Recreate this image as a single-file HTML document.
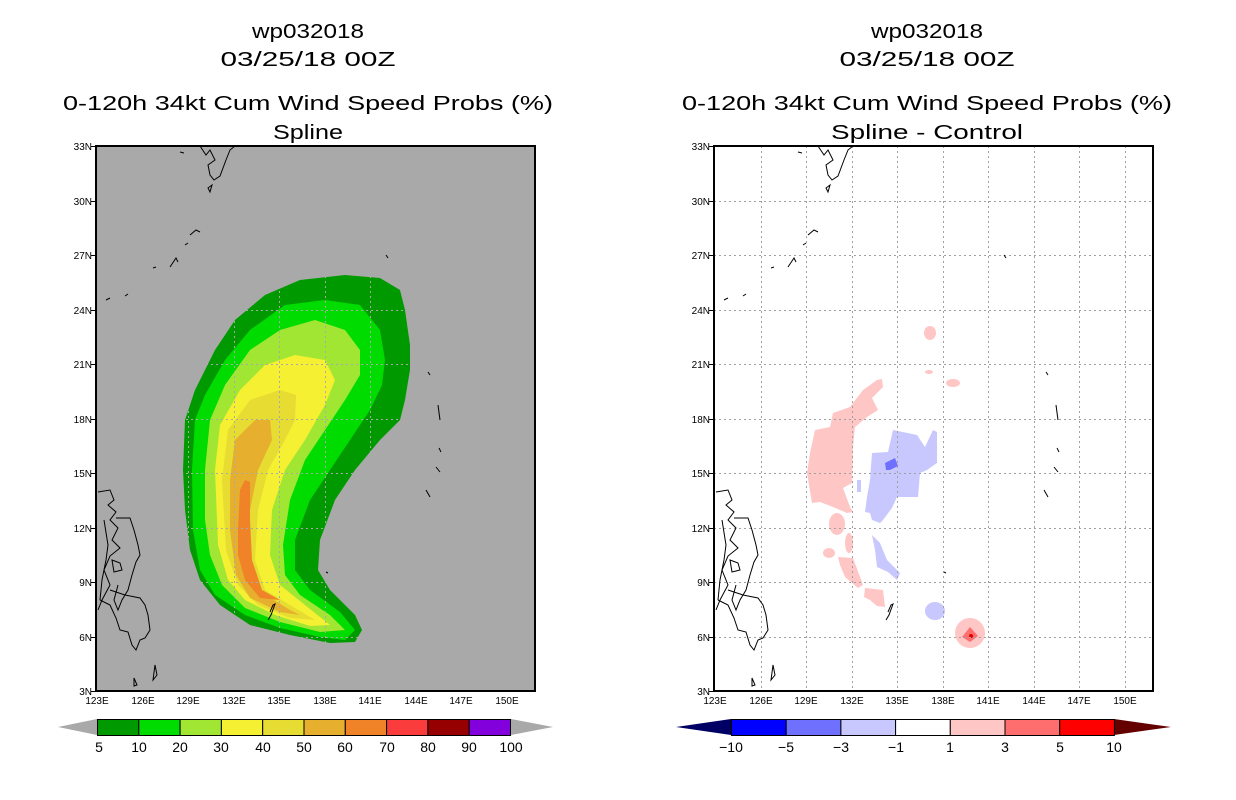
<!DOCTYPE html>
<html><head><meta charset="utf-8"><style>
html,body{margin:0;padding:0;background:#fff;}
svg{display:block;}
text{font-family:"Liberation Sans",sans-serif;fill:#000;}
.t{font-size:20px;}
.tk{font-size:10px;}
.cl{font-size:14px;}
</style></head><body>
<svg width="1236" height="800" viewBox="0 0 1236 800" xmlns="http://www.w3.org/2000/svg">
<defs>
<g id="coast" fill="none" stroke="#000" stroke-width="1">
<path d="M98,492 L110,490 L114,500 L108,505 L116,512 L110,520 L118,528 L112,540 L120,548 L110,556 L104,570 L110,585 L102,600 L98,610"/>
<path d="M116,518 L130,518 L134,530 L138,545 L140,555 L136,562 L132,575 L128,590 L122,600 L118,610 L114,600 L118,585"/>
<path d="M110,590 L125,595 L140,598 L145,605 L148,615 L150,630 L145,638 L140,640 L136,650 L132,645 L128,632 L120,630 L116,618 L110,605 L100,600"/>
<path d="M104,520 L108,545 L106,560 L102,580 L100,600"/>
<path d="M112,560 L120,563 L122,570 L114,572 Z"/>
<path d="M155,665 L157,675 L153,680 Z"/>
<path d="M134,678 L137,685 L134,686 Z"/>
<path d="M270,612 L273,605 L275,604 L271,615 L268,620"/>
<path d="M326,572 L328,573"/>
<path d="M200,146 L206,155 L210,150 L215,160 L208,165 L210,175 L214,180 L220,176 L226,160 L230,150 L235,146"/>
<path d="M180,152 L184,153"/>
<path d="M208,188 L212,185 L210,192 Z"/>
<path d="M190,235 L196,230 L200,232"/>
<path d="M185,245 L188,243"/>
<path d="M170,267 L176,258 L178,262"/>
<path d="M153,268 L156,267"/>
<path d="M106,300 L110,298"/>
<path d="M125,296 L128,294"/>
<path d="M386,255 L388,258"/>
<path d="M428,372 L430,375"/>
<path d="M438,405 L440,420"/>
<path d="M439,448 L441,452"/>
<path d="M436,467 L440,472"/>
<path d="M426,490 L430,497"/>
</g>
</defs>

<!-- LEFT PLOT -->
<rect x="96" y="146" width="439" height="545" fill="#a9a9a9"/>
<polygon fill="#009a00" points="183,470 185,420 195,390 215,350 235,320 265,295 300,280 345,275 380,278 400,290 405,310 410,345 410,370 405,400 400,420 380,440 355,470 335,500 320,540 318,570 330,590 355,615 362,630 355,642 330,643 290,635 250,625 220,605 200,580 190,550 185,510"/>
<polygon fill="#00dc00" points="192,470 195,420 205,395 225,360 250,330 285,305 325,300 360,305 380,330 385,360 382,385 370,410 350,440 330,470 310,500 295,540 295,570 310,590 340,612 355,630 345,640 320,637 280,628 245,615 215,595 200,570 193,530"/>
<polygon fill="#a0e632" points="205,470 210,420 225,385 250,350 280,330 315,320 345,330 360,350 360,375 345,400 325,430 305,460 290,500 283,545 285,575 300,595 330,615 345,630 320,632 280,622 245,608 222,585 210,555 205,520"/>
<polygon fill="#f5f032" points="215,470 220,425 240,390 265,365 295,355 325,360 335,380 325,405 305,440 285,470 272,510 270,555 280,585 305,605 330,625 310,626 275,615 245,600 228,580 218,545"/>
<polygon fill="#e6dc32" points="222,480 228,430 250,400 280,390 296,395 295,420 285,440 268,470 258,510 255,560 265,590 290,605 315,620 290,618 258,605 238,585 226,550"/>
<polygon fill="#e6af2d" points="230,480 235,440 255,420 270,420 272,440 258,470 250,510 248,560 258,590 290,610 300,615 280,612 250,598 236,575 230,530"/>
<polygon fill="#f08228" points="238,530 240,490 245,480 250,482 250,520 252,560 262,590 280,600 260,598 245,580 238,555"/>
<g stroke="#a9a9a9" stroke-width="1" stroke-dasharray="2,3">
<path d="M143.5,146V691M188.5,146V691M234.5,146V691M279.5,146V691M325.5,146V691M370.5,146V691M416.5,146V691M461.5,146V691M507.5,146V691"/>
<path d="M96,637.5H535M96,582.5H535M96,528.5H535M96,473.5H535M96,419.5H535M96,364.5H535M96,310.5H535M96,255.5H535M96,201.5H535"/>
</g>
<use href="#coast"/>
<rect x="96" y="146" width="439" height="545" fill="none" stroke="#000" stroke-width="2"/>

<!-- RIGHT PLOT -->
<rect x="714" y="146" width="439" height="545" fill="#fff"/>
<g fill="#ffc6c6">
<polygon points="882,379 883,387 872,398 878,410 867,417 855,427 853,447 852,483 843,488 850,507 853,512 847,513 833,507 820,502 812,503 807,473 810,453 815,430 830,427 833,413 850,407 863,390 877,380"/>
<ellipse cx="837" cy="524" rx="8" ry="11"/>
<ellipse cx="849" cy="543" rx="4" ry="10"/>
<ellipse cx="829" cy="553" rx="6" ry="5"/>
<polygon points="838,557 853,558 863,585 858,588 845,577 840,565"/>
<polygon points="865,588 883,590 885,607 877,606 870,600 864,597"/>
<ellipse cx="930" cy="333" rx="6" ry="7"/>
<ellipse cx="953" cy="383" rx="7" ry="4"/>
<ellipse cx="929" cy="372" rx="4" ry="2"/>
<circle cx="970" cy="633" r="15"/>
</g>
<g fill="#c8c8ff">
<polygon points="872,453 888,452 893,430 917,435 925,447 933,430 937,432 937,463 927,470 920,473 918,497 897,497 892,508 883,520 880,523 872,520 870,513 865,512 867,497 870,480"/>
<polygon points="872,535 880,543 887,560 900,573 897,580 888,572 877,567 875,550"/>
<ellipse cx="935" cy="611" rx="10" ry="9"/>
<rect x="857" y="480" width="4" height="12"/>
</g>
<polygon fill="#7070ff" points="885,463 895,458 898,466 890,470 886,470"/>
<polygon fill="#ff6e6e" points="970,627 978,636 970,642 962,637"/>
<circle cx="971" cy="636" r="2" fill="#e00000"/>
<g stroke="#a0a0a0" stroke-width="1" stroke-dasharray="2,3">
<path d="M761.5,146V691M806.5,146V691M852.5,146V691M897.5,146V691M943.5,146V691M988.5,146V691M1034.5,146V691M1079.5,146V691M1125.5,146V691"/>
<path d="M714,637.5H1153M714,582.5H1153M714,528.5H1153M714,473.5H1153M714,419.5H1153M714,364.5H1153M714,310.5H1153M714,255.5H1153M714,201.5H1153"/>
</g>
<use href="#coast" transform="translate(618,0)"/>
<rect x="714" y="146" width="439" height="545" fill="none" stroke="#000" stroke-width="2"/>

<!-- ticks and labels -->
<g id="ticksL" stroke="#000" stroke-width="1">
<path d="M91,691.5H96M91,637.5H96M91,582.5H96M91,528.5H96M91,473.5H96M91,419.5H96M91,364.5H96M91,310.5H96M91,255.5H96M91,201.5H96M91,146.5H96"/>
<path d="M709,691.5H714M709,637.5H714M709,582.5H714M709,528.5H714M709,473.5H714M709,419.5H714M709,364.5H714M709,310.5H714M709,255.5H714M709,201.5H714M709,146.5H714"/>
</g>
<g class="tk" text-anchor="end">
<text x="92" y="695">3N</text><text x="92" y="641">6N</text><text x="92" y="586">9N</text><text x="92" y="532">12N</text><text x="92" y="477">15N</text><text x="92" y="423">18N</text><text x="92" y="368">21N</text><text x="92" y="314">24N</text><text x="92" y="259">27N</text><text x="92" y="205">30N</text><text x="92" y="150">33N</text>
<text x="710" y="695">3N</text><text x="710" y="641">6N</text><text x="710" y="586">9N</text><text x="710" y="532">12N</text><text x="710" y="477">15N</text><text x="710" y="423">18N</text><text x="710" y="368">21N</text><text x="710" y="314">24N</text><text x="710" y="259">27N</text><text x="710" y="205">30N</text><text x="710" y="150">33N</text>
</g>
<g class="tk" text-anchor="middle">
<text x="97" y="704">123E</text><text x="143" y="704">126E</text><text x="188" y="704">129E</text><text x="234" y="704">132E</text><text x="279" y="704">135E</text><text x="325" y="704">138E</text><text x="370" y="704">141E</text><text x="416" y="704">144E</text><text x="461" y="704">147E</text><text x="507" y="704">150E</text>
<text x="715" y="704">123E</text><text x="761" y="704">126E</text><text x="806" y="704">129E</text><text x="852" y="704">132E</text><text x="897" y="704">135E</text><text x="943" y="704">138E</text><text x="988" y="704">141E</text><text x="1034" y="704">144E</text><text x="1079" y="704">147E</text><text x="1125" y="704">150E</text>
</g>

<!-- titles -->
<g class="t" text-anchor="middle">
<text x="308" y="38" textLength="112" lengthAdjust="spacingAndGlyphs">wp032018</text>
<text x="308" y="66" textLength="175" lengthAdjust="spacingAndGlyphs">03/25/18 00Z</text>
<text x="308" y="110" textLength="490" lengthAdjust="spacingAndGlyphs">0-120h 34kt Cum Wind Speed Probs (%)</text>
<text x="308" y="139" textLength="70" lengthAdjust="spacingAndGlyphs">Spline</text>
<text x="927" y="38" textLength="112" lengthAdjust="spacingAndGlyphs">wp032018</text>
<text x="927" y="66" textLength="175" lengthAdjust="spacingAndGlyphs">03/25/18 00Z</text>
<text x="927" y="110" textLength="490" lengthAdjust="spacingAndGlyphs">0-120h 34kt Cum Wind Speed Probs (%)</text>
<text x="927" y="139" textLength="192" lengthAdjust="spacingAndGlyphs">Spline - Control</text>
</g>

<!-- left colorbar -->
<polygon points="58,727 97,719 97,735" fill="#a9a9a9"/>
<polygon points="553,727 511,719 511,735" fill="#a9a9a9"/>
<g stroke="#000" stroke-width="1">
<rect x="97.5" y="719.5" width="41.3" height="16" fill="#009a00"/>
<rect x="138.8" y="719.5" width="41.3" height="16" fill="#00dc00"/>
<rect x="180.1" y="719.5" width="41.3" height="16" fill="#a0e632"/>
<rect x="221.4" y="719.5" width="41.3" height="16" fill="#f5f032"/>
<rect x="262.7" y="719.5" width="41.3" height="16" fill="#e6dc32"/>
<rect x="304" y="719.5" width="41.3" height="16" fill="#e6af2d"/>
<rect x="345.3" y="719.5" width="41.3" height="16" fill="#f08228"/>
<rect x="386.6" y="719.5" width="41.3" height="16" fill="#fa3c3c"/>
<rect x="427.9" y="719.5" width="41.3" height="16" fill="#960000"/>
<rect x="469.2" y="719.5" width="41.3" height="16" fill="#8200dc"/>
</g>
<g class="cl" text-anchor="middle">
<text x="99" y="752">5</text><text x="139" y="752">10</text><text x="180" y="752">20</text><text x="221" y="752">30</text><text x="263" y="752">40</text><text x="304" y="752">50</text><text x="345" y="752">60</text><text x="387" y="752">70</text><text x="428" y="752">80</text><text x="469" y="752">90</text><text x="511" y="752">100</text>
</g>

<!-- right colorbar -->
<polygon points="676,727 731,719 731,735" fill="#000064"/>
<polygon points="1171,727 1114,719 1114,735" fill="#640000"/>
<g stroke="#000" stroke-width="1">
<rect x="731.5" y="719.5" width="54.7" height="16" fill="#0000ff"/>
<rect x="786.2" y="719.5" width="54.7" height="16" fill="#7070ff"/>
<rect x="840.9" y="719.5" width="54.7" height="16" fill="#c8c8ff"/>
<rect x="895.6" y="719.5" width="54.7" height="16" fill="#ffffff"/>
<rect x="950.3" y="719.5" width="54.7" height="16" fill="#ffc6c6"/>
<rect x="1005" y="719.5" width="54.7" height="16" fill="#ff6e6e"/>
<rect x="1059.7" y="719.5" width="54.7" height="16" fill="#ff0000"/>
</g>
<g class="cl" text-anchor="middle">
<text x="731" y="752">−10</text><text x="786" y="752">−5</text><text x="841" y="752">−3</text><text x="896" y="752">−1</text><text x="950" y="752">1</text><text x="1005" y="752">3</text><text x="1060" y="752">5</text><text x="1114" y="752">10</text>
</g>
</svg>
</body></html>
